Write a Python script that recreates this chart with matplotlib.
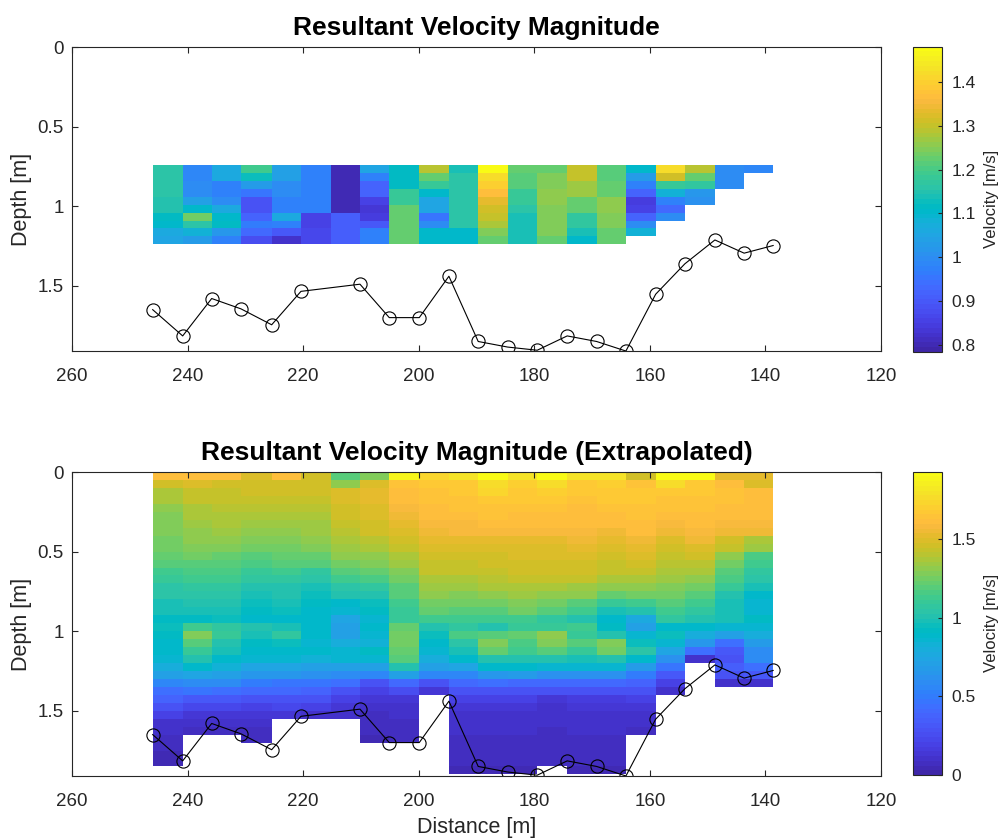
import numpy as np
import matplotlib
matplotlib.use("Agg")
import matplotlib.pyplot as plt
from matplotlib.colors import ListedColormap
from matplotlib.ticker import FuncFormatter

plt.rcParams['font.family'] = ['Liberation Sans', 'DejaVu Sans']

# ---------------- data ----------------
# station (cell edge) positions along the section [m]
stations = [246.04, 240.85, 235.83, 230.76, 225.45, 220.38, 215.24, 210.17, 205.10, 199.91,
            194.78, 189.71, 184.62, 179.50, 174.31, 169.22, 164.15, 159.00, 153.95, 148.75,
            143.69, 138.67]

# bed line (station 215.24 has no bed point)
bed_x = [246.04, 240.85, 235.83, 230.76, 225.45, 220.38, 210.17, 205.10, 199.91,
         194.78, 189.71, 184.62, 179.50, 174.31, 169.22, 164.15, 159.00, 153.95, 148.75,
         143.69, 138.67]
bed_depth = [1.65, 1.815, 1.58, 1.645, 1.745, 1.535, 1.49, 1.70, 1.70, 1.44, 1.85, 1.885,
             1.905, 1.815, 1.85, 1.91, 1.553, 1.362, 1.212, 1.295, 1.247]

# measured cells: depth of first cell edge and cell size [m]
meas_top = 0.74
cell_dz = 0.05

# measured velocity magnitude, one list per column (top -> down) [m/s]
vel_meas = [
    [1.16, 1.16, 1.16, 1.16, 1.15, 1.15, 1.12, 1.10, 1.06, 1.05],
    [0.99, 0.99, 1.00, 1.00, 1.04, 1.10, 1.24, 1.16, 1.08, 1.03],
    [1.06, 1.06, 0.98, 0.98, 1.00, 1.06, 1.10, 1.12, 1.02, 0.98],
    [1.19, 1.13, 1.03, 0.95, 0.89, 0.89, 0.92, 0.96, 0.93, 0.88],
    [1.04, 1.04, 1.00, 1.00, 0.98, 0.98, 1.06, 0.98, 0.90, 0.82],
    [0.97, 0.97, 0.97, 0.97, 0.97, 0.97, 0.86, 0.86, 0.87, 0.87],
    [0.80, 0.80, 0.80, 0.80, 0.80, 0.80, 0.91, 0.91, 0.91, 0.91],
    [1.05, 0.98, 0.92, 0.92, 0.86, 0.83, 0.85, 0.90, 0.97, 0.97],
    [1.12, 1.12, 1.12, 1.18, 1.18, 1.22, 1.22, 1.22, 1.22, 1.22],
    [1.29, 1.22, 1.18, 1.10, 1.05, 1.05, 0.95, 1.00, 1.10, 1.10],
    [1.14, 1.16, 1.16, 1.16, 1.16, 1.16, 1.16, 1.16, 1.10, 1.10],
    [1.47, 1.42, 1.40, 1.37, 1.33, 1.31, 1.30, 1.28, 1.25, 1.22],
    [1.22, 1.21, 1.21, 1.18, 1.18, 1.16, 1.14, 1.14, 1.14, 1.14],
    [1.23, 1.25, 1.25, 1.26, 1.26, 1.25, 1.25, 1.25, 1.25, 1.22],
    [1.30, 1.30, 1.27, 1.27, 1.22, 1.22, 1.17, 1.17, 1.14, 1.10],
    [1.21, 1.21, 1.23, 1.23, 1.26, 1.26, 1.25, 1.25, 1.23, 1.23],
    [1.11, 1.03, 0.97, 0.92, 0.84, 0.86, 0.92, 1.00, 1.08],
    [1.42, 1.31, 1.18, 1.08, 0.98, 0.93, 1.00],
    [1.29, 1.22, 1.17, 1.02, 1.01],
    [1.00, 1.00, 1.00],
    [0.99],
]

# extrapolated velocity magnitude, one list per column from the surface down [m/s]
vel_ext = [
    [1.62, 1.46, 1.37, 1.36, 1.30, 1.29, 1.28, 1.27, 1.25, 1.24, 1.21, 1.20, 1.12, 1.10, 1.05, 1.03, 0.98, 0.97, 0.93,
     0.95, 0.92, 0.88, 0.90, 0.86, 0.80, 0.70, 0.55, 0.45, 0.38, 0.30, 0.20, 0.12, 0.10, 0.08, 0.07, 0.06, 0.05],
    [1.60, 1.50, 1.43, 1.42, 1.38, 1.36, 1.34, 1.32, 1.30, 1.28, 1.24, 1.20, 1.16, 1.12, 1.07, 1.04, 1.00, 0.98, 0.93,
     1.12, 1.28, 1.18, 1.10, 1.00, 0.90, 0.75, 0.60, 0.48, 0.32, 0.22, 0.14, 0.10, 0.08],
    [1.62, 1.47, 1.43, 1.42, 1.40, 1.38, 1.36, 1.34, 1.30, 1.28, 1.23, 1.20, 1.15, 1.12, 1.06, 1.03, 1.00, 0.98, 0.95,
     1.08, 1.10, 1.02, 0.98, 0.90, 0.82, 0.70, 0.58, 0.45, 0.32, 0.22, 0.14, 0.10, 0.08],
    [1.50, 1.46, 1.45, 1.44, 1.40, 1.37, 1.33, 1.30, 1.28, 1.26, 1.20, 1.16, 1.10, 1.06, 1.00, 0.98, 0.95, 0.93, 0.90,
     1.00, 0.98, 0.92, 0.90, 0.86, 0.75, 0.65, 0.50, 0.40, 0.30, 0.20, 0.14, 0.10, 0.08, 0.07],
    [1.60, 1.47, 1.45, 1.44, 1.40, 1.38, 1.34, 1.32, 1.29, 1.26, 1.22, 1.18, 1.12, 1.08, 1.02, 1.00, 0.97, 0.95, 0.90,
     0.98, 1.08, 0.96, 0.90, 0.86, 0.75, 0.65, 0.48, 0.40, 0.30, 0.22, 0.14],
    [1.47, 1.46, 1.45, 1.44, 1.40, 1.38, 1.35, 1.33, 1.30, 1.28, 1.22, 1.18, 1.08, 1.04, 0.98, 0.96, 0.93, 0.90, 0.88,
     0.90, 0.88, 0.86, 0.88, 0.82, 0.72, 0.62, 0.48, 0.38, 0.28, 0.20, 0.12],
    [1.18, 1.30, 1.50, 1.48, 1.46, 1.45, 1.43, 1.41, 1.38, 1.35, 1.30, 1.25, 1.20, 1.12, 1.05, 1.00, 0.88, 0.86, 0.75,
     0.72, 0.72, 0.80, 0.85, 0.86, 0.70, 0.58, 0.45, 0.30, 0.20, 0.14, 0.10],
    [1.28, 1.50, 1.52, 1.52, 1.50, 1.48, 1.47, 1.45, 1.40, 1.36, 1.32, 1.28, 1.22, 1.15, 1.08, 1.02, 0.96, 0.92, 0.85,
     0.88, 0.85, 0.82, 0.92, 0.86, 0.72, 0.55, 0.30, 0.20, 0.14, 0.10, 0.08, 0.07, 0.07, 0.06],
    [1.88, 1.64, 1.62, 1.60, 1.58, 1.56, 1.52, 1.50, 1.45, 1.42, 1.37, 1.33, 1.28, 1.24, 1.20, 1.18, 1.12, 1.10, 1.10,
     1.22, 1.24, 1.24, 1.22, 1.20, 1.00, 0.72, 0.42, 0.25, 0.14, 0.12, 0.10, 0.09, 0.08, 0.08],
    [1.72, 1.66, 1.65, 1.64, 1.62, 1.60, 1.58, 1.55, 1.52, 1.50, 1.46, 1.44, 1.42, 1.38, 1.34, 1.30, 1.26, 1.22, 1.12,
     1.00, 0.95, 0.90, 0.86, 0.80, 0.70, 0.55, 0.30, 0.15],
    [1.78, 1.68, 1.67, 1.65, 1.63, 1.61, 1.59, 1.57, 1.52, 1.50, 1.46, 1.44, 1.42, 1.38, 1.33, 1.28, 1.24, 1.18, 1.12,
     1.08, 1.15, 1.05, 0.98, 0.90, 0.75, 0.55, 0.40, 0.28, 0.20, 0.14, 0.12, 0.10, 0.10, 0.09, 0.08, 0.08, 0.07, 0.06],
    [1.90, 1.76, 1.72, 1.67, 1.65, 1.63, 1.60, 1.58, 1.53, 1.50, 1.47, 1.45, 1.43, 1.40, 1.36, 1.32, 1.26, 1.20, 1.12,
     1.02, 1.20, 1.28, 1.22, 1.00, 0.88, 0.65, 0.45, 0.28, 0.20, 0.14, 0.12, 0.10, 0.10, 0.09, 0.08, 0.08, 0.07, 0.06],
    [1.78, 1.70, 1.68, 1.66, 1.64, 1.62, 1.60, 1.58, 1.53, 1.50, 1.48, 1.46, 1.45, 1.43, 1.38, 1.35, 1.28, 1.24, 1.12,
     1.10, 1.22, 1.15, 1.12, 1.00, 0.88, 0.68, 0.42, 0.28, 0.20, 0.14, 0.12, 0.10, 0.10, 0.09, 0.08, 0.08, 0.07, 0.06],
    [1.90, 1.76, 1.70, 1.66, 1.64, 1.62, 1.60, 1.58, 1.53, 1.50, 1.48, 1.46, 1.45, 1.42, 1.37, 1.32, 1.25, 1.18, 1.06,
     1.10, 1.30, 1.28, 1.20, 1.00, 0.86, 0.62, 0.42, 0.28, 0.14, 0.12, 0.10, 0.10, 0.09, 0.08, 0.08, 0.07, 0.07],
    [1.78, 1.68, 1.66, 1.64, 1.62, 1.62, 1.60, 1.58, 1.55, 1.52, 1.48, 1.46, 1.45, 1.42, 1.35, 1.30, 1.20, 1.12, 1.02,
     1.12, 1.10, 1.18, 1.10, 0.98, 0.86, 0.62, 0.42, 0.28, 0.16, 0.13, 0.12, 0.10, 0.10, 0.09, 0.08, 0.08, 0.07, 0.06],
    [1.80, 1.70, 1.68, 1.66, 1.64, 1.62, 1.60, 1.56, 1.52, 1.48, 1.45, 1.42, 1.42, 1.38, 1.32, 1.22, 1.10, 0.98, 0.88,
     0.92, 1.02, 1.28, 1.26, 1.00, 0.86, 0.62, 0.42, 0.28, 0.16, 0.13, 0.12, 0.10, 0.10, 0.09, 0.08, 0.08, 0.07, 0.06],
    [1.45, 1.64, 1.66, 1.66, 1.65, 1.64, 1.62, 1.60, 1.55, 1.52, 1.48, 1.45, 1.43, 1.38, 1.32, 1.25, 1.12, 1.02, 0.78,
     0.72, 0.85, 0.95, 1.05, 0.88, 0.68, 0.50, 0.38, 0.28, 0.20, 0.15, 0.12, 0.10, 0.09],
    [1.90, 1.75, 1.68, 1.65, 1.63, 1.60, 1.57, 1.54, 1.50, 1.47, 1.43, 1.40, 1.38, 1.33, 1.28, 1.24, 1.18, 1.12, 1.08,
     0.88, 0.95, 0.85, 0.75, 0.62, 0.48, 0.32, 0.20, 0.12],
    [1.90, 1.68, 1.66, 1.64, 1.63, 1.62, 1.60, 1.58, 1.54, 1.50, 1.45, 1.40, 1.38, 1.32, 1.26, 1.20, 1.14, 1.08, 1.00,
     0.88, 0.80, 0.65, 0.45, 0.12],
    [1.52, 1.62, 1.63, 1.63, 1.62, 1.60, 1.58, 1.55, 1.46, 1.42, 1.30, 1.25, 1.20, 1.16, 1.10, 1.02, 0.98, 0.97, 0.97,
     0.86, 0.70, 0.45, 0.32, 0.30, 0.35, 0.28, 0.12],
    [1.52, 1.50, 1.60, 1.62, 1.62, 1.60, 1.58, 1.55, 1.38, 1.33, 1.15, 1.12, 1.08, 1.05, 0.98, 0.88, 0.86, 0.86, 0.92,
     0.86, 0.80, 0.68, 0.60, 0.60, 0.45, 0.32, 0.12],
]

clim_meas = (0.785, 1.48)
clim_ext = (0.0, 1.93)
xticks = [260, 240, 220, 200, 180, 160, 140, 120]
yticks = [0, 0.5, 1, 1.5]
cb_ticks_meas = [0.8, 0.9, 1.0, 1.1, 1.2, 1.3, 1.4]
cb_ticks_ext = [0, 0.5, 1.0, 1.5]

# ---------------- parula colormap ----------------
_parula = [
    [0.2422, 0.1504, 0.6603], [0.2504, 0.1650, 0.7076], [0.2578, 0.1818, 0.7511], [0.2647, 0.1978, 0.7952],
    [0.2706, 0.2147, 0.8364], [0.2751, 0.2342, 0.8710], [0.2783, 0.2559, 0.8991], [0.2803, 0.2782, 0.9221],
    [0.2813, 0.3006, 0.9414], [0.2810, 0.3228, 0.9579], [0.2795, 0.3447, 0.9717], [0.2760, 0.3667, 0.9829],
    [0.2699, 0.3892, 0.9906], [0.2602, 0.4123, 0.9952], [0.2440, 0.4358, 0.9988], [0.2206, 0.4603, 0.9973],
    [0.1963, 0.4847, 0.9892], [0.1834, 0.5074, 0.9798], [0.1786, 0.5289, 0.9682], [0.1764, 0.5499, 0.9520],
    [0.1687, 0.5703, 0.9359], [0.1540, 0.5902, 0.9218], [0.1460, 0.6091, 0.9079], [0.1380, 0.6276, 0.8973],
    [0.1248, 0.6459, 0.8883], [0.1113, 0.6635, 0.8763], [0.0952, 0.6798, 0.8598], [0.0689, 0.6948, 0.8394],
    [0.0297, 0.7082, 0.8163], [0.0036, 0.7203, 0.7917], [0.0067, 0.7312, 0.7660], [0.0433, 0.7411, 0.7394],
    [0.0964, 0.7500, 0.7120], [0.1408, 0.7584, 0.6842], [0.1717, 0.7670, 0.6554], [0.1938, 0.7758, 0.6251],
    [0.2161, 0.7843, 0.5923], [0.2470, 0.7918, 0.5567], [0.2906, 0.7973, 0.5188], [0.3406, 0.8008, 0.4789],
    [0.3909, 0.8029, 0.4354], [0.4456, 0.8024, 0.3909], [0.5044, 0.7993, 0.3480], [0.5616, 0.7942, 0.3045],
    [0.6174, 0.7876, 0.2612], [0.6720, 0.7793, 0.2227], [0.7242, 0.7698, 0.1910], [0.7738, 0.7598, 0.1646],
    [0.8203, 0.7498, 0.1535], [0.8634, 0.7406, 0.1596], [0.9035, 0.7330, 0.1774], [0.9393, 0.7288, 0.2100],
    [0.9728, 0.7298, 0.2394], [0.9956, 0.7434, 0.2371], [0.9970, 0.7659, 0.2199], [0.9952, 0.7893, 0.2028],
    [0.9892, 0.8136, 0.1885], [0.9786, 0.8386, 0.1766], [0.9676, 0.8639, 0.1643], [0.9610, 0.8890, 0.1537],
    [0.9597, 0.9135, 0.1423], [0.9628, 0.9373, 0.1265], [0.9691, 0.9606, 0.1064], [0.9769, 0.9839, 0.0805],
]
parula = ListedColormap(_parula, name='parula')


def to_grid(cols, nrows):
    grid = np.full((nrows, len(cols)), np.nan)
    for j, c in enumerate(cols):
        grid[:len(c), j] = c
    return np.ma.masked_invalid(grid)


n_meas = max(len(c) for c in vel_meas)
n_ext = max(len(c) for c in vel_ext)
z_meas = meas_top + cell_dz * np.arange(n_meas + 1)
z_ext = cell_dz * np.arange(n_ext + 1)
C_meas = to_grid(vel_meas, n_meas)
C_ext = to_grid(vel_ext, n_ext)

# ---------------- figure ----------------
fig = plt.figure(figsize=(10.03, 8.39), dpi=100)
edge = (0.15, 0.15, 0.15)

ax1 = fig.add_axes([0.0718, 0.5816, 0.8066, 0.3623])
ax2 = fig.add_axes([0.0718, 0.0751, 0.8066, 0.3623])
cax1 = fig.add_axes([0.9103, 0.5808, 0.0289, 0.3635])
cax2 = fig.add_axes([0.9103, 0.0763, 0.0289, 0.3615])

ymax = max(bed_depth)
fmt = FuncFormatter(lambda v, p: f"{v:g}")

panels = [
    (ax1, cax1, z_meas, C_meas, clim_meas, cb_ticks_meas, "Resultant Velocity Magnitude"),
    (ax2, cax2, z_ext, C_ext, clim_ext, cb_ticks_ext, "Resultant Velocity Magnitude (Extrapolated)"),
]
for ax, cax, zed, C, clim, cbt, title in panels:
    mesh = ax.pcolormesh(stations, zed, C, cmap=parula, vmin=clim[0], vmax=clim[1],
                         shading='flat', edgecolors='none', antialiased=False)
    ax.plot(bed_x, bed_depth, '-o', color='black', lw=0.8, ms=9.5, mfc='none', mew=0.8)
    ax.set_xlim(260, 120)
    ax.set_ylim(ymax, 0)
    ax.set_xticks(xticks)
    ax.set_yticks(yticks)
    ax.yaxis.set_major_formatter(fmt)
    ax.tick_params(direction='in', top=True, right=True, length=4, width=0.8,
                   colors=edge, labelsize=13.5)
    ax.tick_params(axis='x', pad=12.5)
    ax.tick_params(axis='y', pad=6)
    for s in ax.spines.values():
        s.set_color(edge)
        s.set_linewidth(0.8)
    ax.set_ylabel("Depth [m]", fontsize=15.5, color=edge, labelpad=4)
    ax.set_title(title, fontsize=19, fontweight='bold', pad=9)

    cb = fig.colorbar(mesh, cax=cax)
    cb.set_ticks(cbt)
    cb.ax.yaxis.set_major_formatter(fmt)
    cb.ax.tick_params(direction='in', length=3, width=0.8, colors=edge, labelsize=12.5, pad=7)
    cb.outline.set_edgecolor(edge)
    cb.outline.set_linewidth(0.8)
    cb.set_label("Velocity [m/s]", fontsize=12, color=edge, labelpad=6)

ax2.set_xlabel("Distance [m]", fontsize=15.5, color=edge, labelpad=5)

fig.savefig("out.png", dpi=100)
